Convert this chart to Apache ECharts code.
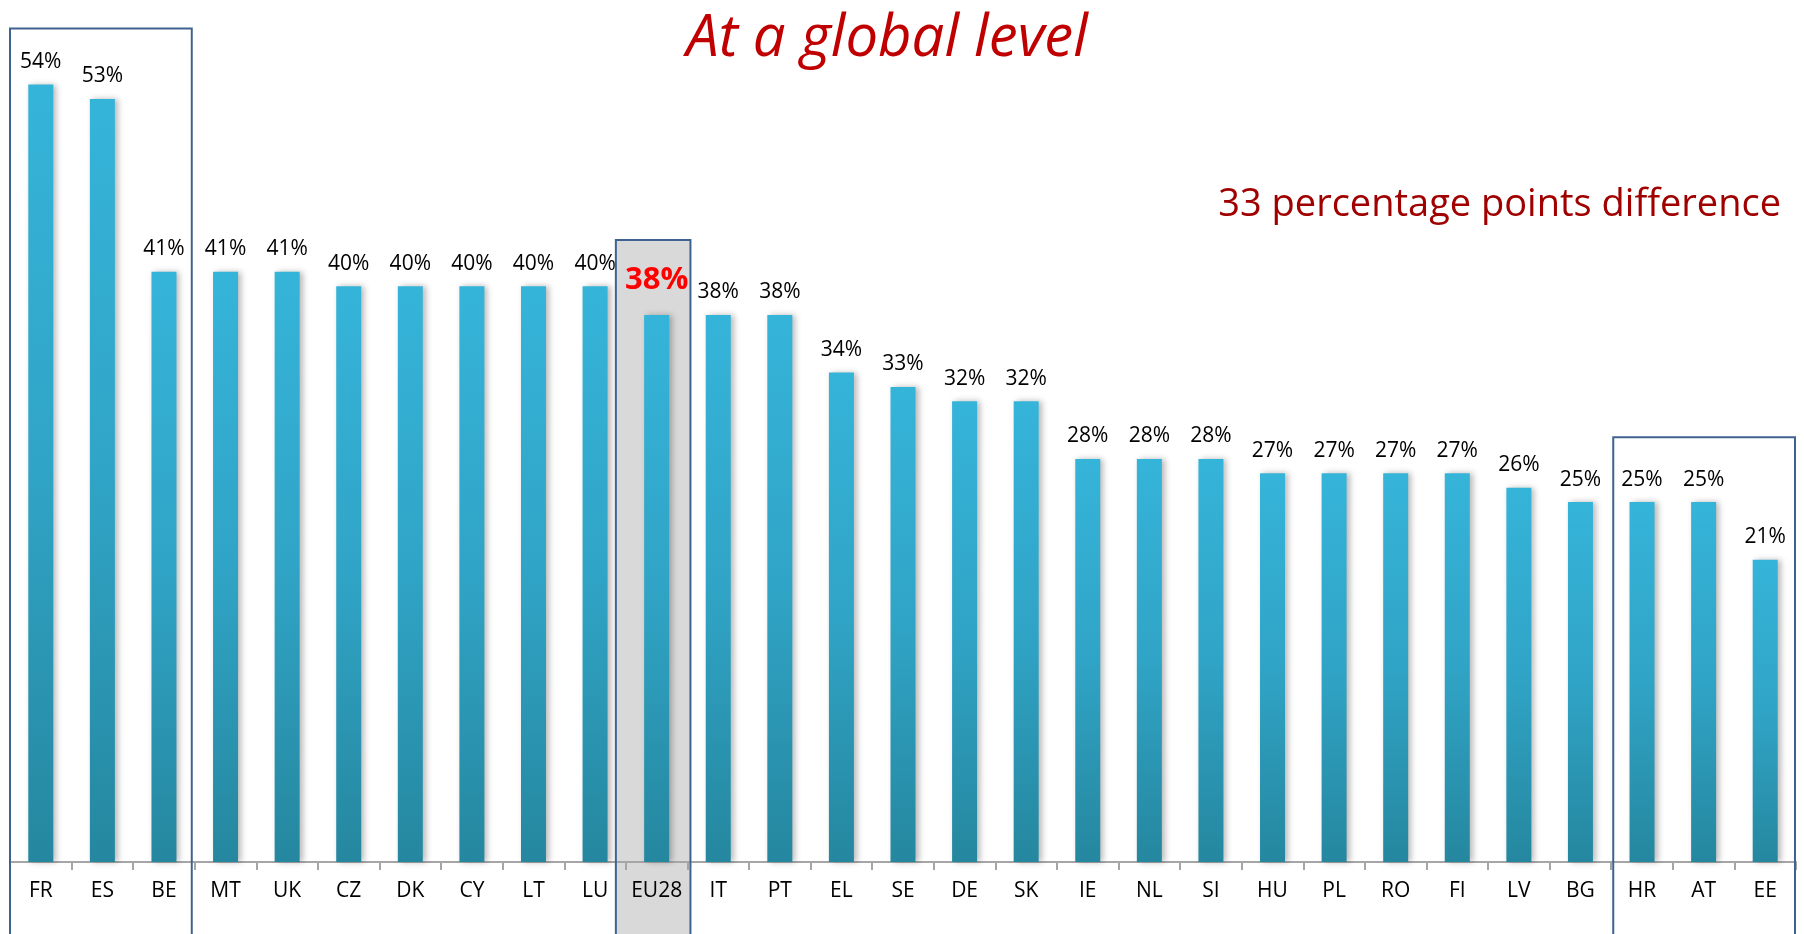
<!DOCTYPE html>
<html>
<head>
<meta charset="utf-8">
<script src="https://cdn.jsdelivr.net/npm/echarts@6/dist/echarts.min.js"></script>
<style>
html,body{margin:0;padding:0;background:#fff;}
#chart{width:1804px;height:934px;}
</style>
</head>
<body>
<div id="chart"></div>
<script>
const categories = ['FR','ES','BE','MT','UK','CZ','DK','CY','LT','LU','EU28','IT','PT','EL','SE','DE','SK','IE','NL','SI','HU','PL','RO','FI','LV','BG','HR','AT','EE'];
const values = [54,53,41,41,41,40,40,40,40,40,38,38,38,34,33,32,32,28,28,28,27,27,27,27,26,25,25,25,21];
const highlightCategory = 'EU28';
const titleText = 'At a global level';
const noteText = '33 percentage points difference';

const chart = echarts.init(document.getElementById('chart'));

const seriesData = values.map((v, i) => {
  if (categories[i] === highlightCategory) {
    return {
      value: v,
      label: { color: '#ff0000', fontWeight: 'bold', fontSize: 31, distance: 19 }
    };
  }
  return v;
});

const option = {
  animation: false,
  backgroundColor: '#ffffff',
  grid: { left: 10, right: 8, top: 27, bottom: 72 },
  xAxis: {
    type: 'category',
    data: categories,
    boundaryGap: true,
    axisLine: { lineStyle: { color: '#a6a6a6', width: 2 } },
    axisTick: { show: true, length: 8, lineStyle: { color: '#a6a6a6', width: 2 } },
    axisLabel: { color: '#000', fontSize: 21, fontFamily: 'Open Sans', margin: 19, interval: 0 }
  },
  yAxis: {
    type: 'value', min: 0, max: 58,
    show: false, splitLine: { show: false }
  },
  series: [{
    type: 'bar',
    data: seriesData,
    barWidth: 25,
    itemStyle: {
      color: new echarts.graphic.LinearGradient(0, 0, 0, 1, [
        { offset: 0, color: '#35b4d9' },
        { offset: 0.5, color: '#30a4c6' },
        { offset: 1, color: '#25879f' }
      ]),
      shadowColor: 'rgba(0,0,0,0.28)',
      shadowBlur: 6,
      shadowOffsetX: 3,
      shadowOffsetY: 0
    },
    label: {
      show: true,
      position: 'top',
      distance: 12,
      formatter: '{c}%',
      color: '#000',
      fontSize: 21,
      fontFamily: 'Open Sans'
    }
  }]
};
chart.setOption(option);

// annotation boxes, positioned from the axes
const boxSpecs = [
  { from: 0, to: 3, topValue: 57.9, padL: 0, padR: -3, fill: null },
  { from: 10, to: 11, topValue: 43.2, padL: -10, padR: 3, fill: '#d9d9d9' },
  { from: 26, to: 29, topValue: 29.5, padL: 2, padR: -1, fill: null }
];
function buildGraphics() {
  const c0 = chart.convertToPixel({ xAxisIndex: 0 }, 0);
  const c1 = chart.convertToPixel({ xAxisIndex: 0 }, 1);
  const w = c1 - c0;
  const boundary = i => c0 - w / 2 + i * w;
  const elems = [];
  boxSpecs.forEach(b => {
    const x1 = boundary(b.from) + b.padL;
    const x2 = boundary(b.to) + b.padR;
    const yTop = chart.convertToPixel({ yAxisIndex: 0 }, b.topValue);
    const shape = { x: x1, y: yTop, width: x2 - x1, height: 960 - yTop };
    if (b.fill) {
      elems.push({ type: 'rect', z: -10, shape, style: { fill: b.fill } });
    }
    elems.push({ type: 'rect', z: 100, shape, style: { fill: 'none', stroke: '#3f6390', lineWidth: 2 } });
  });
  elems.push({
    type: 'text', z: 100, x: 887, y: 10,
    style: { text: titleText, fill: '#c00000', font: 'italic 58px "Open Sans"', textAlign: 'center', textVerticalAlign: 'top' }
  });
  elems.push({
    type: 'text', z: 100, x: 1781, y: 186,
    style: { text: noteText, fill: '#a00000', font: '38px "Open Sans"', textAlign: 'right', textVerticalAlign: 'top' }
  });
  chart.setOption({ graphic: { elements: elems } });
}
buildGraphics();
</script>
</body>
</html>
